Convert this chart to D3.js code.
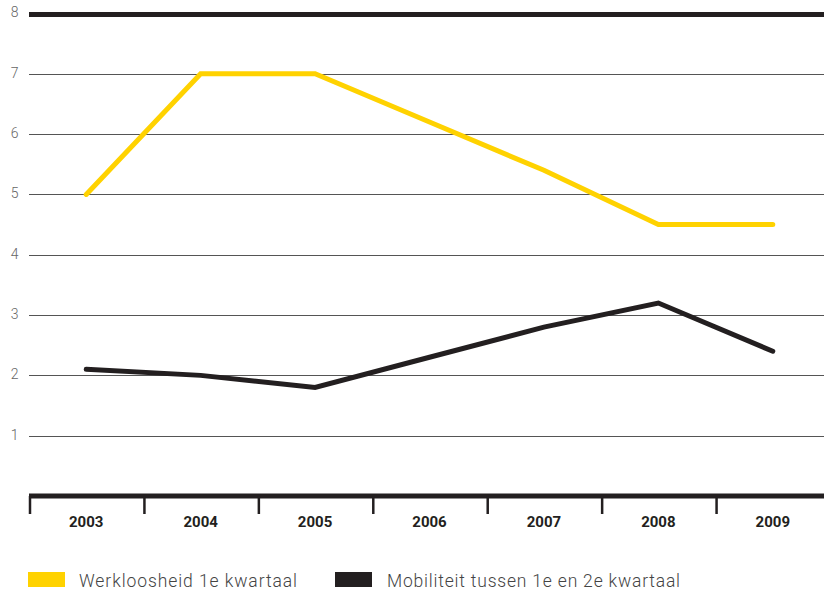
<!DOCTYPE html>
<html>
<head>
<meta charset="utf-8">
<script src="https://cdn.jsdelivr.net/npm/d3@7"></script>
<style>
	body { margin: 0; background: #fff; }
	svg { display: block; font-family: "Roboto", "DejaVu Sans", sans-serif; }
</style>
</head>
<body>
<svg id="chart" width="824" height="596"></svg>
<script>
const YEARS = ["2003", "2004", "2005", "2006", "2007", "2008", "2009"];
const WERKLOOSHEID = [5.0, 7.0, 7.0, 6.2, 5.4, 4.5, 4.5];
const MOBILITEIT = [2.1, 2.0, 1.8, 2.3, 2.8, 3.2, 2.4];
const Y_TICKS = [1, 2, 3, 4, 5, 6, 7, 8];
const SERIES_NAMES = ["Werkloosheid 1e kwartaal", "Mobiliteit tussen 1e en 2e kwartaal"];
const COLORS = ["#ffd200", "#231f20"];

const svg = d3.select("#chart");

let x = d3.scaleBand()
	.domain(YEARS)
	.range([29, 830]);

let y = d3.scaleLinear()
	.domain([0, 8])
	.range([496, 13.5]);

// grid lines
svg.append("g")
	.selectAll("line")
	.data(Y_TICKS)
	.enter().append("line")
	.attr("x1", 29)
	.attr("x2", 824)
	.attr("y1", (d) => Math.round(y(d)) + 0.5)
	.attr("y2", (d) => Math.round(y(d)) + 0.5)
	.attr("stroke", (d) => d === 8 ? "#231f20" : "#555")
	.attr("stroke-width", (d) => d === 8 ? 5 : 1);

// y labels
svg.append("g")
	.selectAll("text")
	.data(Y_TICKS)
	.enter().append("text")
	.attr("x", 18.5)
	.attr("y", (d) => y(d) - 1)
	.attr("dy", "0.35em")
	.attr("text-anchor", "end")
	.attr("font-size", 14)
	.attr("font-weight", 300)
	.attr("fill", "#666")
	.text((d) => d);

// x axis
let xAxis = svg.append("g");
xAxis.append("line")
	.attr("x1", 29)
	.attr("x2", 824)
	.attr("y1", y(0))
	.attr("y2", y(0))
	.attr("stroke", "#231f20")
	.attr("stroke-width", 5);

xAxis.selectAll(".tick")
	.data(YEARS)
	.enter().append("line")
	.attr("x1", (d) => x(d) + 1)
	.attr("x2", (d) => x(d) + 1)
	.attr("y1", y(0))
	.attr("y2", 514)
	.attr("stroke", "#231f20")
	.attr("stroke-width", 2.5);

xAxis.selectAll("text")
	.data(YEARS)
	.enter().append("text")
	.attr("x", (d) => x(d) + x.bandwidth() / 2)
	.attr("y", 527)
	.attr("text-anchor", "middle")
	.attr("font-size", 15)
	.attr("font-weight", 700)
	.attr("fill", "#231f20")
	.text((d) => d);

// lines
let line = d3.line()
	.x((d, i) => x(YEARS[i]) + x.bandwidth() / 2)
	.y((d) => y(d));

[WERKLOOSHEID, MOBILITEIT].forEach((values, i) => {
	svg.append("path")
		.datum(values)
		.attr("fill", "none")
		.attr("stroke", COLORS[i])
		.attr("stroke-width", 5)
		.attr("stroke-linecap", "round")
		.attr("stroke-linejoin", "miter")
		.attr("d", line);
});

// legend
let legendX = [28, 335];
let legendTextLen = [218, 293];
let legend = svg.append("g")
	.selectAll("g")
	.data(SERIES_NAMES)
	.enter().append("g")
	.attr("transform", (d, i) => "translate(" + legendX[i] + ",572)");

legend.append("rect")
	.attr("width", 37)
	.attr("height", 15)
	.attr("fill", (d, i) => COLORS[i]);

legend.append("text")
	.attr("x", (d, i) => i === 0 ? 51 : 52)
	.attr("y", 15)
	.attr("font-size", 17.5)
	.attr("font-weight", 300)
	.attr("fill", "#444")
	.attr("textLength", (d, i) => legendTextLen[i])
	.attr("lengthAdjust", "spacing")
	.text((d) => d);
</script>
</body>
</html>
